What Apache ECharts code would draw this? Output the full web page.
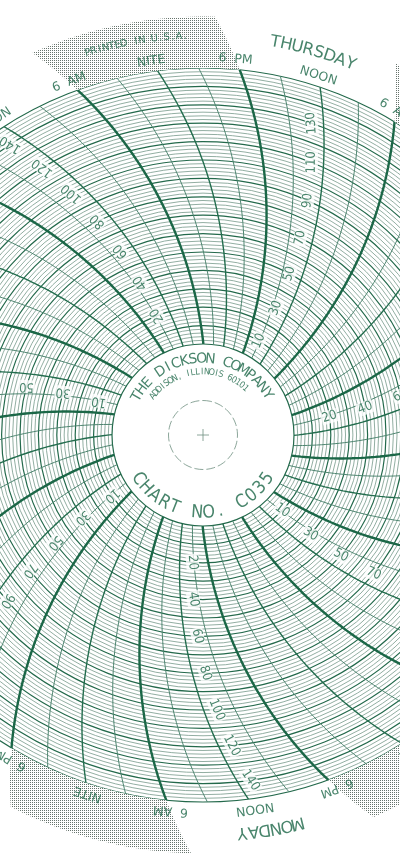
<!DOCTYPE html>
<html>
<head>
<meta charset="utf-8">
<script src="https://cdn.jsdelivr.net/npm/echarts@6/dist/echarts.min.js"></script>
<style>
  html, body { margin: 0; padding: 0; background: #fff; }
  #chart { width: 400px; height: 864px; }
</style>
</head>
<body>
<div id="chart"></div>
<script>
// 7 day circular chart, range 0 - 150
const days = ['MONDAY', 'TUESDAY', 'WEDNESDAY', 'THURSDAY', 'FRIDAY', 'SATURDAY', 'SUNDAY'];
const lineHours = [0, 3, 6, 9, 12, 15, 18, 21];
const hourNameAt = [0, 6, 12, 18];
const hourNames = ['NITE', '6  AM', 'NOON', '6  PM'];
const oddValues = [10, 30, 50, 70, 90, 110, 130];
const evenValues = [20, 40, 60, 80, 100, 120, 140];
const dayValueSet = ['even', 'odd', 'even', 'odd', 'even', 'odd', 'odd'];
const rangeMin = 0, rangeMax = 150, majorStep = 10, minorSplits = 5;
const companyLine = 'THE DICKSON COMPANY';
const addressLine = 'ADDISON, ILLINOIS 60101';
const chartNoLine = 'CHART NO. C035';
const printLine = 'PRINTED IN U.S.A.';
const printDay = 4; // printed at friday NITE

// layout
const CX = 203, CY = 435;
const R_IN = 91, R_OUT = 367;
const ARM = 410;          // pen arc radius (px), arcs pass through centre
const START = 251.4;      // angle of monday 00:00 on the outer ring
const WEEK = 168;
const V_LABEL = 155.5, V_DAY = 167.5, V_TICK = 162, V_EDGE = 178;
const GREEN = '#1b6747';

const pxPerUnit = (R_OUT - R_IN) / (rangeMax - rangeMin);
const toPx = v => R_IN + v * pxPerUnit;
const DEG = 180 / Math.PI;
const hPerDeg = WEEK / 360;
// how far (deg, clockwise) the pen arc has turned at value v, measured from the outer ring
const armTurn = v => Math.acos(toPx(v) / (2 * ARM)) * DEG - Math.acos(R_OUT / (2 * ARM)) * DEG;
const onArc = (t, v) => t - armTurn(v) * hPerDeg;
const screenAngle = t => START + t * 360 / WEEK;

const lineSeries = (data, width, color, polarIndex, type) => ({
  type: 'line', coordinateSystem: 'polar', polarIndex: polarIndex || 0,
  data: data, symbol: 'none', showSymbol: false, clip: false, silent: true,
  animation: false, z: 3,
  lineStyle: { width: width, color: color, type: type || 'solid' }
});

const textSeries = (items, family, size, polarIndex, extra) => ({
  type: 'scatter', coordinateSystem: 'polar', polarIndex: polarIndex || 0,
  clip: false, silent: true, animation: false, z: 6,
  symbol: 'circle', symbolSize: 1, itemStyle: { color: 'rgba(0,0,0,0)' },
  label: Object.assign({
    show: true, position: 'inside', formatter: '{b}', color: GREEN,
    fontFamily: family, fontSize: size, align: 'center', verticalAlign: 'middle'
  }, extra || {}),
  data: items
});

// text along the band, tops outward, reading clockwise
function bandText(str, v, tMid, step) {
  const r = toPx(v), n = str.length;
  return str.split('').map((ch, i) => {
    const t = tMid - ((i - (n - 1) / 2) * step / r) * DEG * hPerDeg;
    return { name: ch, value: [v, t], label: { rotate: screenAngle(t) - 90 } };
  }).filter(it => it.name !== ' ');
}

// text round the centre (compass degrees), tops out or in
function ringText(str, r, mid, stepDeg, inward) {
  const n = str.length;
  return str.split('').map((ch, i) => {
    const a = mid + (inward ? -1 : 1) * (i - (n - 1) / 2) * stepDeg;
    return { name: ch, value: [r, a], label: { rotate: inward ? 180 - a : -a } };
  }).filter(it => it.name !== ' ');
}

const series = [];

// stippled night band
const dot = document.createElement('canvas');
dot.width = 2; dot.height = 2;
const g = dot.getContext('2d');
g.fillStyle = '#ffffff'; g.fillRect(0, 0, 2, 2);
g.fillStyle = '#66736c'; g.fillRect(0, 0, 1, 1);
const nights = days.map((_, d) => [d * 24 + 18, d * 24 + 30]);
series.push({
  type: 'custom', coordinateSystem: 'polar', polarIndex: 0, silent: true,
  animation: false, z: 1, data: nights,
  renderItem: (params, api) => {
    const t1 = api.value(0), t2 = api.value(1);
    const pts = [];
    for (let v = rangeMax; v <= V_EDGE; v += 2) pts.push(api.coord([v, onArc(t1, v)]));
    for (let t = t1; t <= t2 + 1e-6; t += 0.5) pts.push(api.coord([V_EDGE, onArc(t, V_EDGE)]));
    for (let v = V_EDGE; v >= rangeMax; v -= 2) pts.push(api.coord([v, onArc(t2, v)]));
    for (let t = t2; t >= t1 - 1e-6; t -= 0.5) pts.push(api.coord([rangeMax, t]));
    return { type: 'polygon', shape: { points: pts }, style: { fill: { image: dot, repeat: 'repeat' }, stroke: null } };
  }
});

// paper edge
const edge = [];
for (let t = 0; t <= WEEK; t += 1) edge.push([V_EDGE, t]);
series.push(lineSeries(edge, 0.8, '#c3cac6'));

// time arcs every 3 hours
days.forEach((_, d) => {
  lineHours.forEach(h => {
    const t = d * 24 + h;
    const pts = [];
    for (let v = rangeMin; v <= rangeMax; v += 2.5) pts.push([v, onArc(t, v)]);
    const major = h % 12 === 6, mid = h % 12 === 0;
    series.push(lineSeries(pts, major ? 2.4 : mid ? 1.4 : 1.0, major ? GREEN : mid ? '#236d4e' : '#4e8570'));
    if (major) {
      const tick = [];
      for (let v = V_TICK; v <= V_EDGE; v += 2) tick.push([v, onArc(t, v)]);
      series.push(lineSeries(tick, 2.4, GREEN));
    }
  });
});

// band time labels
const timeItems = [];
days.forEach((_, d) => hourNameAt.forEach((h, k) => {
  const t = onArc(d * 24 + h, V_LABEL);
  timeItems.push({ name: hourNames[k], value: [V_LABEL, t], label: { rotate: screenAngle(t) - 90 } });
}));
series.push(textSeries(timeItems, 'DejaVu Sans', 12.5));

// day names at noon, printer note
let dayItems = [];
days.forEach((name, d) => {
  dayItems = dayItems.concat(bandText(name, V_DAY, onArc(d * 24 + 12, V_DAY), 11.2));
});
series.push(textSeries(dayItems, 'DejaVu Sans', 16.5));
series.push(textSeries(bandText(printLine, V_DAY, onArc(printDay * 24, V_DAY), 6.2), 'DejaVu Sans', 10));

// scale numbers beside each noon line
const valueItems = [];
days.forEach((_, d) => {
  const vals = dayValueSet[d] === 'odd' ? oddValues : evenValues;
  vals.forEach(v => {
    const t = onArc(d * 24 + 12, v) + (13 / toPx(v)) * DEG * hPerDeg;
    const lean = 90 - Math.acos(toPx(v) / (2 * ARM)) * DEG;
    valueItems.push({ name: String(v), value: [v, t], label: { rotate: screenAngle(t) + lean } });
  });
});
series.push(textSeries(valueItems, "'DejaVu Sans Condensed', 'Liberation Sans Narrow', sans-serif", 13, 0,
  { backgroundColor: '#ffffff', padding: [0, 1] }));

// centre
series.push(textSeries(ringText(companyLine, 76, -1, 6.55, false), 'DejaVu Sans', 14, 1));
series.push(textSeries(ringText(addressLine, 63, -5, 4.3, false), "'DejaVu Sans Condensed', sans-serif", 9, 1));
series.push(textSeries(ringText(chartNoLine, 78, 180, 8.6, true), "'DejaVu Sans Condensed', sans-serif", 18, 1));
const hub = [];
for (let a = 0; a <= 360; a += 3) hub.push([34.5, a]);
series.push(lineSeries(hub, 0.8, '#6e8f80', 1, [9, 3]));
series.push(lineSeries([[6, 0], [6, 180]], 0.8, '#6e8f80', 1));
series.push(lineSeries([[6, 90], [6, 270]], 0.8, '#6e8f80', 1));

const hidden = { axisLine: { show: false }, axisTick: { show: false }, axisLabel: { show: false }, splitLine: { show: false } };

const option = {
  animation: false,
  backgroundColor: '#ffffff',
  polar: [
    { center: [CX, CY], radius: [R_IN, R_OUT] },
    { center: [CX, CY], radius: [0, R_IN] }
  ],
  angleAxis: [
    Object.assign({ polarIndex: 0, type: 'value', min: 0, max: WEEK, startAngle: START, clockwise: false }, hidden),
    Object.assign({ polarIndex: 1, type: 'value', min: 0, max: 360, startAngle: 90, clockwise: true }, hidden)
  ],
  radiusAxis: [
    {
      polarIndex: 0, type: 'value', min: rangeMin, max: rangeMax, interval: majorStep,
      axisLine: { show: false }, axisTick: { show: false }, axisLabel: { show: false },
      splitLine: { show: true, lineStyle: { width: 1.2, color: '#23694b' } },
      minorTick: { show: false, splitNumber: minorSplits },
      minorSplitLine: { show: true, lineStyle: { width: 0.8, color: '#76998a' } }
    },
    Object.assign({ polarIndex: 1, type: 'value', min: 0, max: R_IN }, hidden)
  ],
  series: series
};

const chart = echarts.init(document.getElementById('chart'));
chart.setOption(option);
</script>
</body>
</html>
